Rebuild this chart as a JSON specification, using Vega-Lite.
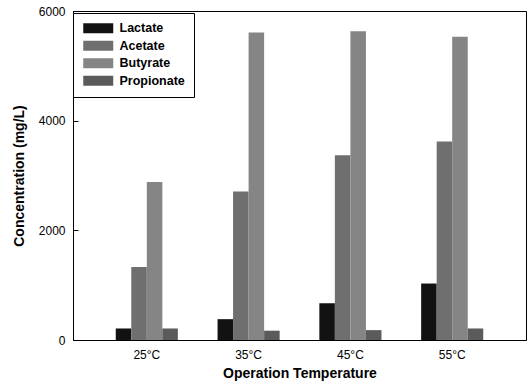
{
  "$schema": "https://vega.github.io/schema/vega-lite/v6.json",
  "width": 453,
  "height": 329,
  "autosize": {"type": "none"},
  "padding": {"left": 73, "top": 11, "right": 2, "bottom": 44},
  "config": {
    "view": {"stroke": "#000000", "strokeWidth": 1},
    "font": "Liberation Sans",
    "axis": {"grid": false, "domainColor": "#000000", "tickColor": "#000000", "labelColor": "#000000", "titleColor": "#000000", "labelFont": "Liberation Sans", "titleFont": "Liberation Sans"}
  },
  "data": {
    "values": [
      {"temp": "25°C", "acid": "Lactate", "value": 210},
      {"temp": "25°C", "acid": "Acetate", "value": 1330},
      {"temp": "25°C", "acid": "Butyrate", "value": 2880},
      {"temp": "25°C", "acid": "Propionate", "value": 210},
      {"temp": "35°C", "acid": "Lactate", "value": 380},
      {"temp": "35°C", "acid": "Acetate", "value": 2710},
      {"temp": "35°C", "acid": "Butyrate", "value": 5610},
      {"temp": "35°C", "acid": "Propionate", "value": 170},
      {"temp": "45°C", "acid": "Lactate", "value": 670},
      {"temp": "45°C", "acid": "Acetate", "value": 3370},
      {"temp": "45°C", "acid": "Butyrate", "value": 5630},
      {"temp": "45°C", "acid": "Propionate", "value": 180},
      {"temp": "55°C", "acid": "Lactate", "value": 1030},
      {"temp": "55°C", "acid": "Acetate", "value": 3620},
      {"temp": "55°C", "acid": "Butyrate", "value": 5530},
      {"temp": "55°C", "acid": "Propionate", "value": 210}
    ]
  },
  "mark": {"type": "bar"},
  "encoding": {
    "x": {
      "field": "temp", "type": "nominal",
      "scale": {"paddingInner": 0.39, "paddingOuter": 0.42},
      "axis": {"title": "Operation Temperature", "labelAngle": 0, "ticks": false, "labelPadding": 9, "labelFontSize": 12, "titleFontSize": 14, "titleFontWeight": "bold", "titlePadding": 6}
    },
    "xOffset": {"field": "acid", "type": "nominal", "sort": ["Lactate", "Acetate", "Butyrate", "Propionate"], "scale": {"paddingInner": 0, "paddingOuter": 0}},
    "y": {
      "field": "value", "type": "quantitative",
      "scale": {"domain": [0, 6000], "nice": false},
      "axis": {"title": "Concentration (mg/L)", "values": [0, 2000, 4000, 6000], "format": "d", "tickSize": -5, "labelPadding": 13, "labelFontSize": 12, "titleFontSize": 14, "titleFontWeight": "bold", "titlePadding": 12}
    },
    "color": {
      "field": "acid", "type": "nominal",
      "sort": ["Lactate", "Acetate", "Butyrate", "Propionate"],
      "scale": {"domain": ["Lactate", "Acetate", "Butyrate", "Propionate"], "range": ["#121212", "#6f6f6f", "#858585", "#5b5b5b"]},
      "legend": {
        "title": null, "orient": "none", "legendX": 0, "legendY": 2,
        "strokeColor": "#000000", "fillColor": "#ffffff", "padding": 9,
        "symbolType": "M-1,-1H5V1H-1Z", "symbolSize": 100, "symbolStrokeWidth": 0,
        "labelOffset": 25, "labelFontSize": 12.5, "labelFontWeight": "bold", "labelColor": "#000000",
        "rowPadding": 4.5
      }
    }
  }
}
